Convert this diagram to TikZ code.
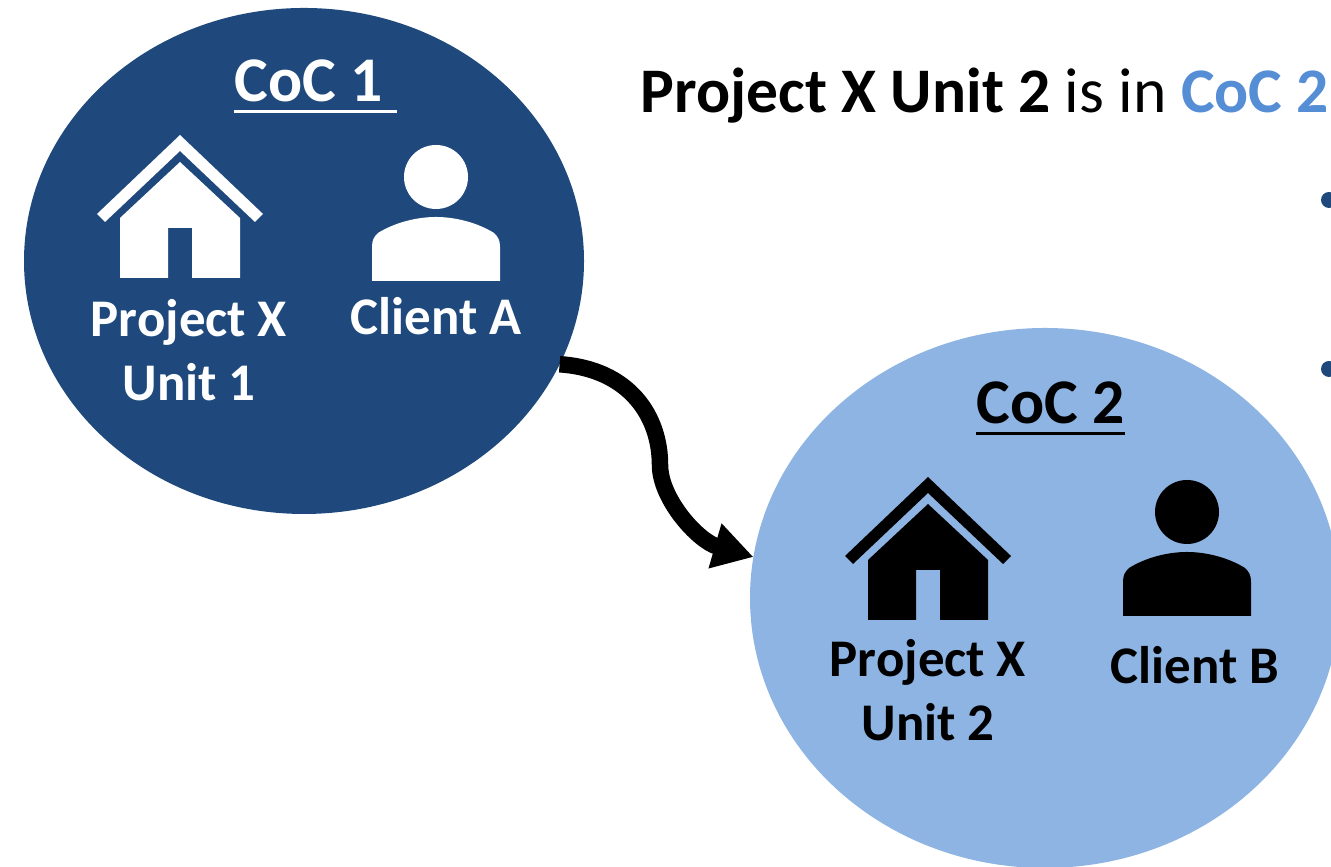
\documentclass[tikz,border=0pt]{standalone}
\usepackage{fontspec}
\setmainfont{Carlito}
\usetikzlibrary{arrows.meta,shapes.geometric}
\definecolor{cocdark}{HTML}{1F497D}
\definecolor{coclight}{HTML}{8EB4E3}
\definecolor{cocblue}{HTML}{558ED5}
\newlength{\coclen}
\newcommand{\cocline}[1]{\settowidth{\coclen}{#1}\rlap{\rule[-3.3pt]{\coclen}{.85pt}}#1}
\tikzset{
  cocnode/.style={ellipse,inner sep=0pt,outer sep=0pt},
  coclabel/.style={font=\fontsize{18.1}{20}\selectfont\bfseries},
  iconlabel/.style={font=\fontsize{15.05}{18.2}\selectfont\bfseries,align=center},
  titlelabel/.style={font=\fontsize{18.07}{20}\selectfont,anchor=west,inner sep=0pt},
}
\newcommand{\houseicon}[3]{
  \fill[#3,shift={(#1,#2)}] (0,1.43) -- (-.83,.64) -- (-.75,.56) -- (0,1.27) -- (.75,.56) -- (.83,.64) -- cycle;
  \fill[#3,shift={(#1,#2)}] (0,1.16) -- (-.60,.60) -- (-.60,0) -- (-.12,0) -- (-.12,.50) -- (.12,.50) -- (.12,0) -- (.60,0) -- (.60,.60) -- cycle;
}
\newcommand{\personicon}[3]{
  \fill[#3,shift={(#1,#2)}] (0,1.04) circle (.32);
  \fill[#3,shift={(#1,#2)}] (-.64,0) -- (-.64,.34) .. controls (-.64,.41) and (-.62,.44) .. (-.58,.48) .. controls (-.42,.58) and (-.20,.64) .. (0,.64) .. controls (.20,.64) and (.42,.58) .. (.58,.48) .. controls (.62,.44) and (.64,.41) .. (.64,.34) -- (.64,0) -- cycle;
}
\begin{document}
\begin{tikzpicture}
\useasboundingbox (0,0) rectangle (13.31,8.67);
\node[cocnode,fill=cocdark,minimum width=5.60cm,minimum height=5.06cm] (coca) at (3.04,6.06) {};
\node[cocnode,fill=coclight,minimum width=5.90cm,minimum height=5.40cm] (cocb) at (10.45,2.69) {};
% first group
\node[coclabel,white] (cocatitle) at (3.085,7.81) {\cocline{CoC 1~}};
\houseicon{1.80}{5.89}{white}
\personicon{4.36}{5.86}{white}
\node[iconlabel,white] (projecta) at (1.89,5.17) {Project X\\Unit 1};
\node[iconlabel,white] (clienta) at (4.36,5.51) {Client A};
% second group
\node[coclabel] (cocbtitle) at (10.505,4.59) {\cocline{CoC 2}};
\houseicon{9.28}{2.47}{black}
\personicon{11.87}{2.51}{black}
\node[iconlabel] (projectb) at (9.28,1.77) {Project X\\Unit 2};
\node[iconlabel] (clientb) at (11.95,2.02) {Client B};
% text on the right
\node[titlelabel] (title) at (6.40,7.71) {\textbf{Project X Unit 2} is in \textbf{\textcolor{cocblue}{CoC 2}}};
\fill[cocdark] (13.29,6.67) circle (.08);
\fill[cocdark] (13.29,4.98) circle (.08);
\draw[line width=.165cm,-{Triangle[length=.40cm,width=.44cm]}] (coca.-22.8) .. controls (6.30,4.98) and (6.60,4.50) .. (6.60,4.02) .. controls (6.60,3.68) and (6.98,3.26) .. (cocb.172);
\end{tikzpicture}
\end{document}
